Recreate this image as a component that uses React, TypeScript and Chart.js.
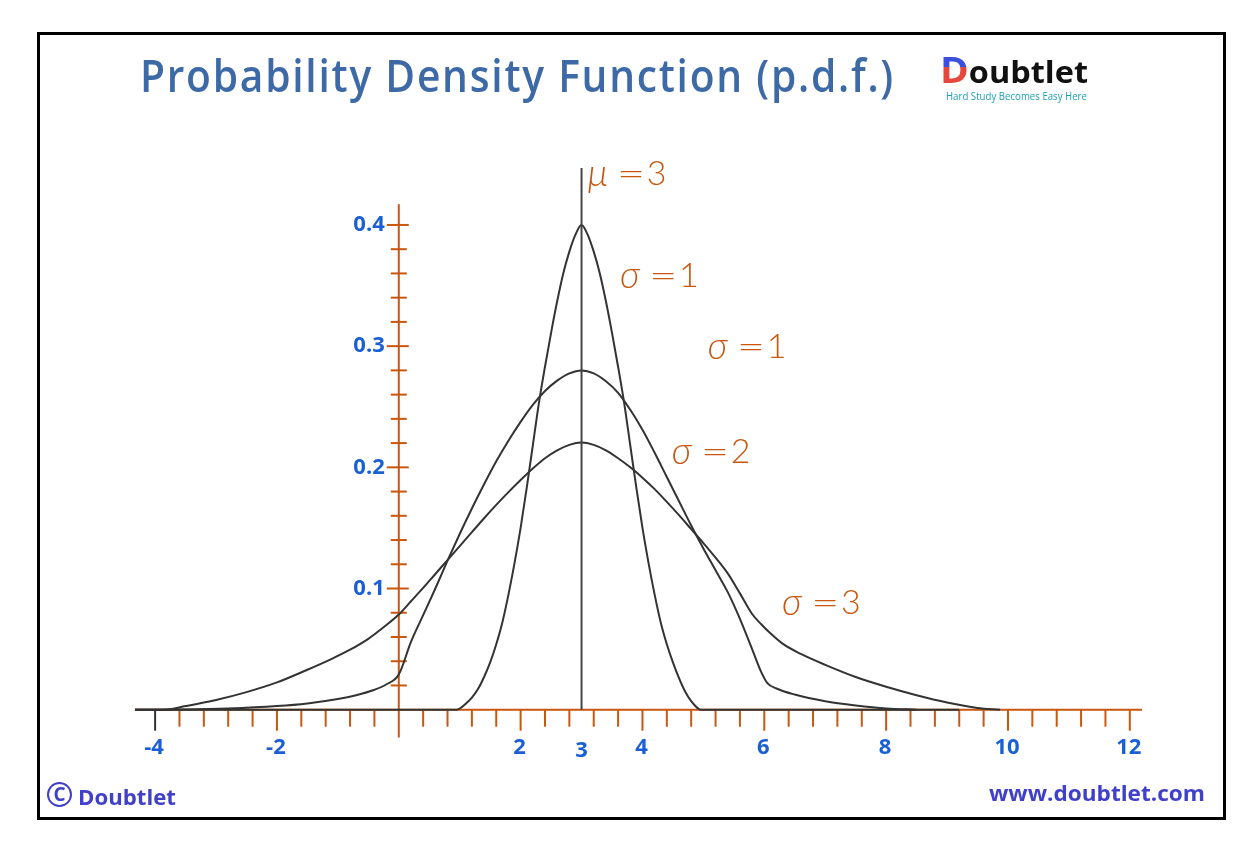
import React, { useEffect, useRef } from 'react';
import { Chart, registerables } from 'chart.js';

Chart.register(...registerables);

const W = 1258;
const H = 851;

// ---- curve data ----
const narrowX = [-4.33, 0.95, 1.0, 1.1, 1.2, 1.3, 1.4, 1.5, 1.6, 1.7, 1.8, 1.9, 2.0, 2.1, 2.2, 2.3, 2.4, 2.5, 2.6, 2.7, 2.8, 2.9, 3.0, 3.1, 3.2, 3.3, 3.4, 3.5, 3.6, 3.7, 3.8, 3.9, 4.0, 4.1, 4.2, 4.3, 4.4, 4.5, 4.6, 4.7, 4.8, 4.9, 4.95, 9.2];
const narrowY = [0, 0, 0.001, 0.005, 0.01, 0.017, 0.027, 0.039, 0.054, 0.072, 0.095, 0.121, 0.15, 0.183, 0.218, 0.253, 0.283, 0.311, 0.337, 0.36, 0.378, 0.392, 0.4, 0.392, 0.378, 0.36, 0.337, 0.311, 0.283, 0.253, 0.218, 0.183, 0.15, 0.121, 0.095, 0.072, 0.054, 0.039, 0.026, 0.015, 0.007, 0.0015, 0, 0];

const middleX = [-4.33, -3.5, -2.8, -2.0, -1.5, -1.0, -0.7, -0.4, -0.2, 0, 0.2, 0.4, 0.6, 0.8, 1.0, 1.2, 1.4, 1.6, 1.8, 2.0, 2.2, 2.4, 2.6, 2.8, 3.0, 3.2, 3.4, 3.6, 3.8, 4.0, 4.2, 4.4, 4.6, 4.8, 5.0, 5.2, 5.4, 5.6, 5.8, 5.95, 6.05, 6.2, 6.5, 7.0, 7.5, 8.0, 8.5];
const middleY = [0, 0.0002, 0.001, 0.003, 0.0052, 0.0088, 0.012, 0.0165, 0.021, 0.029, 0.056, 0.078, 0.1, 0.123, 0.145, 0.166, 0.186, 0.205, 0.222, 0.2375, 0.2515, 0.263, 0.2715, 0.2775, 0.28, 0.2775, 0.271, 0.2615, 0.2475, 0.231, 0.212, 0.192, 0.172, 0.152, 0.133, 0.115, 0.097, 0.075, 0.05, 0.031, 0.022, 0.0175, 0.0125, 0.007, 0.0035, 0.001, 0];

const wideX = [-4.33, -3.85, -3.5, -3.0, -2.5, -2.0, -1.5, -1.1, -0.8, -0.5, -0.25, 0, 0.2, 0.4, 0.6, 0.8, 1.0, 1.2, 1.4, 1.6, 1.8, 2.0, 2.2, 2.4, 2.6, 2.8, 3.0, 3.2, 3.4, 3.6, 3.8, 4.0, 4.2, 4.4, 4.6, 4.8, 5.0, 5.2, 5.4, 5.6, 5.8, 5.95, 6.1, 6.3, 6.6, 7.0, 7.5, 8.0, 8.5, 9.0, 9.5, 9.87];
const wideY = [0, 0, 0.003, 0.008, 0.0145, 0.0225, 0.033, 0.042, 0.0495, 0.0585, 0.068, 0.0785, 0.0895, 0.1005, 0.112, 0.1235, 0.135, 0.1465, 0.158, 0.169, 0.1795, 0.1895, 0.199, 0.2075, 0.214, 0.2185, 0.2204, 0.2185, 0.214, 0.2075, 0.2, 0.1915, 0.182, 0.1715, 0.1605, 0.149, 0.1375, 0.1255, 0.1125, 0.096, 0.079, 0.0705, 0.063, 0.0545, 0.046, 0.037, 0.027, 0.019, 0.012, 0.006, 0.0015, 0];

const meanX = 3;
const meanLineTop = 0.447;

// ---- axes / ticks ----
const xAxisMin = -4.33;
const xAxisMax = 12.2;
const yAxisMin = -0.025;
const yAxisMax = 0.447;
const yAxisLineBottom = -0.023;
const yAxisLineTop = 0.417;
const xTickStart = -4;
const xTickEnd = 12;
const xMinorStep = 0.4;
const yTickEnd = 0.4;
const yMinorStep = 0.02;
const xTickLabels = [-4, -2, 2, 4, 6, 8, 10, 12];
const meanTickLabel = 3;
const yTickLabels = ['0.1', '0.2', '0.3', '0.4'];

// ---- annotations ----
const annotationSymbols = ['μ', 'σ', 'σ', 'σ', 'σ'];
const annotationValues = ['3', '1', '1', '2', '3'];
const annotationX = [3.1, 3.63, 5.07, 4.48, 6.29];
const annotationY = [0.442, 0.358, 0.299, 0.213, 0.088];

const ORANGE = '#c9570f';
const BLUE = '#1a5fd6';
const CURVE = '#333333';

const zip = (xs: number[], ys: number[]) => xs.map((x, i) => ({ x, y: ys[i] }));

const axesPlugin = {
  id: 'pdfAxes',
  beforeDatasetsDraw(chart: any) {
    const { ctx, scales } = chart;
    const xs = scales.x;
    const ys = scales.y;
    const x0 = xs.getPixelForValue(0);
    const y0 = ys.getPixelForValue(0);
    const seg = (a: number, b: number, c: number, d: number, color: string, w: number) => {
      ctx.beginPath();
      ctx.strokeStyle = color;
      ctx.lineWidth = w;
      ctx.moveTo(a, b);
      ctx.lineTo(c, d);
      ctx.stroke();
    };
    ctx.save();
    ctx.lineCap = 'butt';
    const nx = Math.round((xTickEnd - xTickStart) / xMinorStep);
    for (let i = 0; i <= nx; i++) {
      const v = +(xTickStart + i * xMinorStep).toFixed(4);
      if (Math.abs(v) < 1e-6) continue;
      const isInt = Math.abs(v - Math.round(v)) < 1e-6;
      const major = isInt && Math.round(v) % 2 === 0;
      const px = xs.getPixelForValue(v);
      const color = v === xTickStart ? '#333333' : ORANGE;
      seg(px, y0, px, y0 + (major ? 21 : 17), color, 2);
    }
    const ny = Math.round(yTickEnd / yMinorStep);
    for (let j = 1; j <= ny; j++) {
      const v = j * yMinorStep;
      const major = j % 5 === 0;
      const py = ys.getPixelForValue(v);
      seg(x0 - (major ? 12 : 8), py, x0 + (major ? 10 : 8), py, ORANGE, 2);
    }
    seg(xs.getPixelForValue(xAxisMin), y0, xs.getPixelForValue(xAxisMax), y0, ORANGE, 2);
    seg(x0, ys.getPixelForValue(yAxisLineBottom), x0, ys.getPixelForValue(yAxisLineTop), ORANGE, 2);
    ctx.restore();
  },
  afterDatasetsDraw(chart: any) {
    const { ctx, scales } = chart;
    const xs = scales.x;
    const ys = scales.y;
    const x0 = xs.getPixelForValue(0);
    const y0 = ys.getPixelForValue(0);
    ctx.save();
    ctx.fillStyle = BLUE;
    ctx.font = '700 22px "Open Sans", sans-serif';
    ctx.textBaseline = 'middle';
    ctx.textAlign = 'center';
    xTickLabels.forEach((v) => {
      ctx.fillText(String(v), xs.getPixelForValue(v) - 1, y0 + 38);
    });
    ctx.fillText(String(meanTickLabel), xs.getPixelForValue(meanTickLabel), y0 + 41);
    ctx.textAlign = 'right';
    yTickLabels.forEach((t) => {
      ctx.fillText(t, x0 - 14, ys.getPixelForValue(parseFloat(t)));
    });
    ctx.fillStyle = ORANGE;
    ctx.textAlign = 'left';
    annotationSymbols.forEach((s, i) => {
      const px = xs.getPixelForValue(annotationX[i]);
      const py = ys.getPixelForValue(annotationY[i]);
      ctx.font = 'italic 300 37px "Lato", sans-serif';
      ctx.fillText(s, px, py);
      ctx.font = '300 34px "Lato", sans-serif';
      ctx.save();
      ctx.translate(px + 29, py);
      ctx.scale(1.45, 1);
      ctx.fillText('=', 0, 0);
      ctx.restore();
      ctx.fillText(annotationValues[i], px + 59, py);
    });
    ctx.restore();
  },
};

function fitWidth(el: HTMLElement | null, target: number) {
  if (!el) return;
  el.style.transform = 'none';
  const w = el.getBoundingClientRect().width;
  if (w > 0) el.style.transform = `scaleX(${target / w})`;
}

export default function App() {
  const canvasRef = useRef<HTMLCanvasElement | null>(null);
  const titleRef = useRef<HTMLSpanElement | null>(null);
  const logoRef = useRef<HTMLSpanElement | null>(null);
  const subRef = useRef<HTMLSpanElement | null>(null);
  const wwwRef = useRef<HTMLSpanElement | null>(null);
  const footRef = useRef<HTMLSpanElement | null>(null);

  useEffect(() => {
    fitWidth(titleRef.current, 755);
    fitWidth(logoRef.current, 148);
    fitWidth(subRef.current, 141);
    fitWidth(wwwRef.current, 216);
    fitWidth(footRef.current, 98);
    const canvas = canvasRef.current;
    if (!canvas) return;
    const curveStyle = {
      borderColor: CURVE,
      borderWidth: 2,
      pointRadius: 0,
      fill: false,
      cubicInterpolationMode: 'monotone' as const,
    };
    const chart = new Chart(canvas, {
      type: 'line',
      data: {
        datasets: [
          { label: 'mean', data: [{ x: meanX, y: 0 }, { x: meanX, y: meanLineTop }], borderColor: '#444444', borderWidth: 2, pointRadius: 0, tension: 0 },
          { label: 'sigma1', data: zip(narrowX, narrowY), ...curveStyle },
          { label: 'sigma2', data: zip(middleX, middleY), ...curveStyle },
          { label: 'sigma3', data: zip(wideX, wideY), ...curveStyle },
        ],
      },
      options: {
        animation: false,
        responsive: false,
        devicePixelRatio: 1,
        layout: { padding: { left: 135, right: 116, top: 168, bottom: 111 } },
        scales: {
          x: { type: 'linear', min: xAxisMin, max: xAxisMax, display: false },
          y: { type: 'linear', min: yAxisMin, max: yAxisMax, display: false },
        },
        plugins: { legend: { display: false }, tooltip: { enabled: false }, title: { display: false } },
      },
      plugins: [axesPlugin],
    });
    return () => chart.destroy();
  }, []);

  const abs = (o: React.CSSProperties): React.CSSProperties => ({ position: 'absolute', whiteSpace: 'nowrap', transformOrigin: 'left center', ...o });

  return (
    <div style={{ position: 'absolute', left: 0, top: 0, width: W, height: H, background: '#ffffff', overflow: 'hidden' }}>
      <canvas ref={canvasRef} width={W} height={H} style={{ position: 'absolute', left: 0, top: 0, width: W, height: H }} />
      <div style={{ position: 'absolute', left: 37, top: 32, width: 1189, height: 788, border: '3px solid #000', boxSizing: 'border-box' }} />
      <span ref={titleRef} style={abs({ left: 140, top: 45, fontFamily: '"Open Sans", sans-serif', fontWeight: 600, fontSize: 46, lineHeight: '58px', color: '#3d6aa7', letterSpacing: 2 })}>
        Probability Density Function (p.d.f.)
      </span>
      <span ref={logoRef} style={abs({ left: 940, top: 50, fontFamily: '"Open Sans", sans-serif', fontWeight: 700, fontSize: 30, lineHeight: '40px', color: '#111' })}>
        <span style={{ background: 'linear-gradient(#3b4fe0 45%, #e5473d 45%)', WebkitBackgroundClip: 'text', backgroundClip: 'text', color: 'transparent', fontSize: 36 }}>D</span>oubtlet
      </span>
      <span ref={subRef} style={abs({ left: 946, top: 89, fontFamily: '"Open Sans", sans-serif', fontSize: 11, lineHeight: '14px', color: '#1a9fb3' })}>
        Hard Study Becomes Easy Here
      </span>
      <div style={{ position: 'absolute', left: 47, top: 782, width: 21, height: 21, border: '2.5px solid #4040c8', borderRadius: '50%', color: '#4040c8', fontFamily: '"Open Sans", sans-serif', fontWeight: 700, fontSize: 19, lineHeight: '21px', textAlign: 'center' }}>
        C
      </div>
      <span ref={footRef} style={abs({ left: 78, top: 781, fontFamily: '"Open Sans", sans-serif', fontWeight: 700, fontSize: 22, lineHeight: '30px', color: '#4040c8' })}>
        Doubtlet
      </span>
      <span ref={wwwRef} style={abs({ left: 989, top: 777, fontFamily: '"Open Sans", sans-serif', fontWeight: 700, fontSize: 22, lineHeight: '30px', color: '#4040c8' })}>
        www.doubtlet.com
      </span>
    </div>
  );
}
